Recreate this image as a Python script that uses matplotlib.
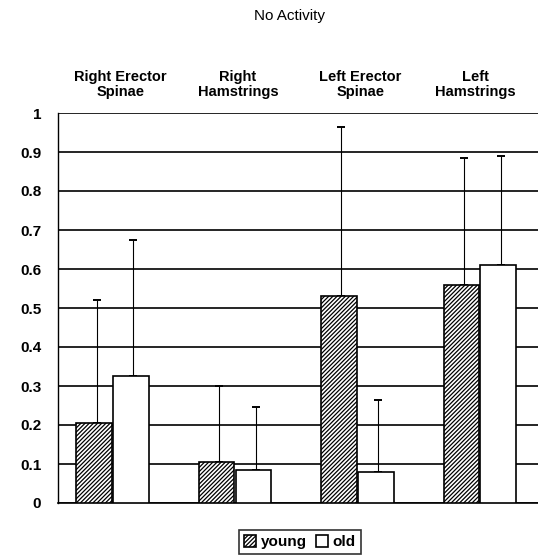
import matplotlib
matplotlib.use("Agg")
import matplotlib.pyplot as plt
import numpy as np

categories = ["Right Erector\nSpinae", "Right\nHamstrings", "Left Erector\nSpinae", "Left\nHamstrings"]
young = [0.205, 0.105, 0.53, 0.56]
old = [0.325, 0.085, 0.08, 0.61]
young_top = [0.52, 0.30, 0.965, 0.885]
old_top = [0.675, 0.245, 0.265, 0.89]
yticks = [0, 0.1, 0.2, 0.3, 0.4, 0.5, 0.6, 0.7, 0.8, 0.9, 1]
yticklabels = ["0", "0.1", "0.2", "0.3", "0.4", "0.5", "0.6", "0.7", "0.8", "0.9", "1"]

plt.rcParams['font.family'] = ['Liberation Sans', 'DejaVu Sans']
plt.rcParams['hatch.linewidth'] = 0.9

fig = plt.figure(figsize=(5.38, 5.56), dpi=100)
ax = fig.add_axes([58/538, 1-503/556, 480/538, 390/556])

x = np.arange(len(categories))
w = 0.29
ax.bar(x - w/2 - 0.01, young, w, color='white', edgecolor='black', hatch='////////', linewidth=1.2, zorder=3, label='young')
ax.bar(x + w/2, old, w, color='white', edgecolor='black', linewidth=1.2, zorder=3, label='old')

yerr_y = [np.zeros(4), np.array(young_top) - np.array(young)]
yerr_o = [np.zeros(4), np.array(old_top) - np.array(old)]
ax.errorbar(x - w/2 + 0.01, young, yerr=yerr_y, fmt='none', ecolor='black', elinewidth=0.8, capsize=3, capthick=1.4, zorder=2)
ax.errorbar(x + w/2 + 0.02, old, yerr=yerr_o, fmt='none', ecolor='black', elinewidth=0.8, capsize=3, capthick=1.4, zorder=2)

ax.set_xlim(-0.45, 3.47)
ax.set_ylim(0, 1)
ax.set_yticks(yticks)
ax.set_yticklabels(yticklabels, fontsize=11, fontweight='bold')
ax.set_xticks([])
ax.yaxis.grid(True, color='black', linewidth=1.2, zorder=0)
ax.set_axisbelow(True)
ax.tick_params(axis='y', length=0, pad=12)
for s in ['top', 'right']:
    ax.spines[s].set_visible(False)
ax.spines['left'].set_linewidth(1.0)
ax.spines['bottom'].set_linewidth(1.2)

label_x = [0.06, 1.02, 2.02, 2.96]
for lx, cat in zip(label_x, categories):
    ax.text(lx, 1.035, cat, transform=ax.get_xaxis_transform(), ha='center', va='bottom',
            fontsize=10.5, fontweight='bold', linespacing=1.15)

fig.text(290/538, 1-16/556, "No Activity", ha='center', va='center', fontsize=11)

leg = fig.legend(loc='center', bbox_to_anchor=(300/538, 1-542/556), ncol=2, frameon=True,
                 fancybox=False, edgecolor='black', handlelength=0.8, handleheight=0.8,
                 handletextpad=0.3, columnspacing=0.6, borderpad=0.3, prop={'weight': 'bold', 'size': 11})
leg.get_frame().set_linewidth(1.2)

fig.savefig("out.png", dpi=100)
